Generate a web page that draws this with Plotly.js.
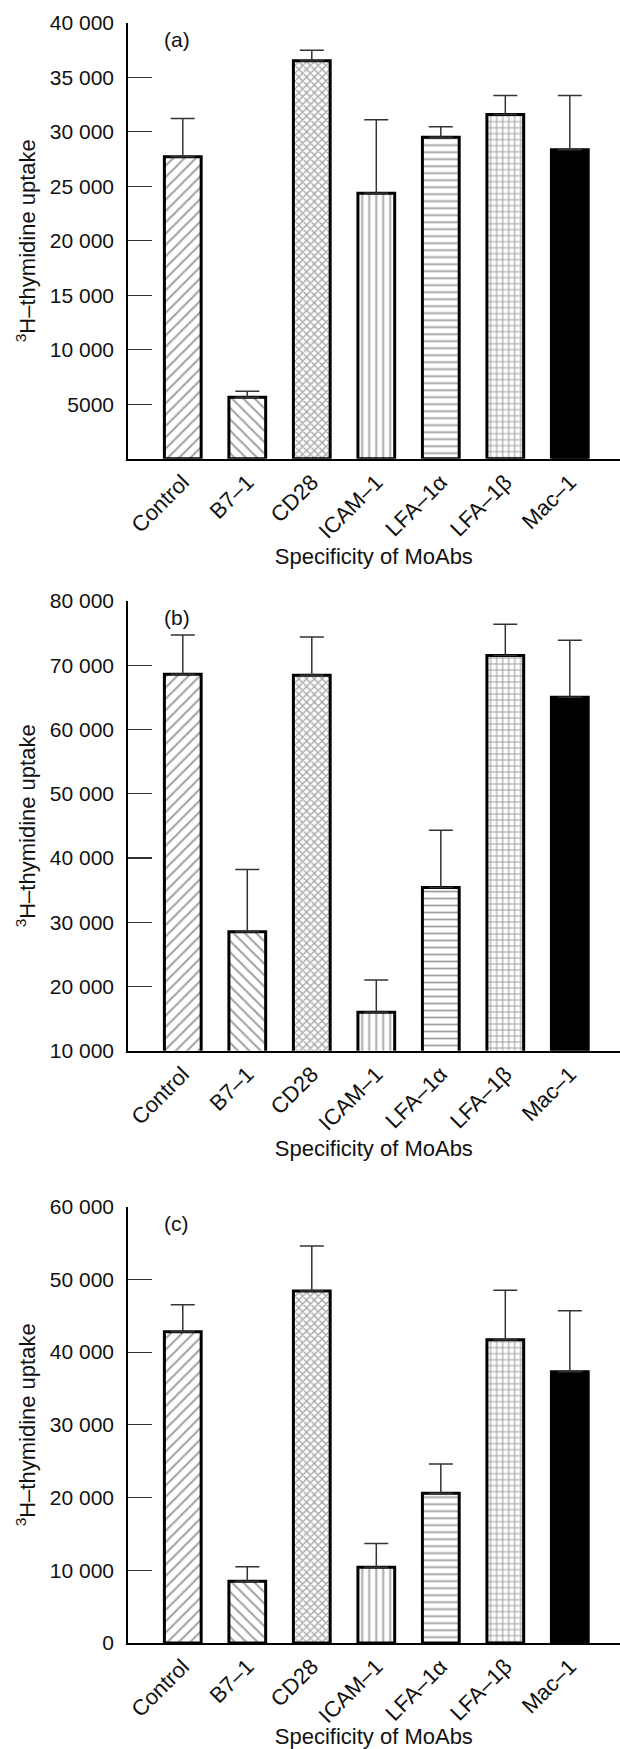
<!DOCTYPE html>
<html>
<head>
<meta charset="utf-8">
<script src="https://cdn.plot.ly/plotly-3.0.1.min.js"></script>
<style>
  html, body { margin: 0; padding: 0; background: #fff; }
  #chart { width: 620px; height: 1749px; }
</style>
</head>
<body>
<div id="chart"></div>
<script>
// ---- Data ----
const categories = ["Control", "B7–1", "CD28", "ICAM–1", "LFA–1α", "LFA–1β", "Mac–1"];

const valuesA = [27700, 5640, 36500, 24350, 29480, 31580, 28340];
const errTopA = [31200, 6190, 37470, 31090, 30450, 33320, 33320];

const valuesB = [68600, 28500, 68450, 16000, 35400, 71500, 65000];
const errTopB = [74700, 38200, 74400, 21000, 44300, 76400, 73900];

const valuesC = [42800, 8500, 48400, 10400, 20600, 41700, 37300];
const errTopC = [46500, 10500, 54600, 13700, 24600, 48500, 45700];

const tickValsA = [5000, 10000, 15000, 20000, 25000, 30000, 35000, 40000];
const tickTextA = ["5000", "10 000", "15 000", "20 000", "25 000", "30 000", "35 000", "40 000"];
const tickValsB = [10000, 20000, 30000, 40000, 50000, 60000, 70000, 80000];
const tickTextB = ["10 000", "20 000", "30 000", "40 000", "50 000", "60 000", "70 000", "80 000"];
const tickValsC = [0, 10000, 20000, 30000, 40000, 50000, 60000];
const tickTextC = ["0", "10 000", "20 000", "30 000", "40 000", "50 000", "60 000"];

const panelLabels = ["(a)", "(b)", "(c)"];
const xTitle = "Specificity of MoAbs";
const yTitle = "<sup>3</sup>H–thymidine uptake";

// ---- Styles ----
const FONT = "Liberation Sans, Arial, Helvetica, sans-serif";
const patternShapes = ["/", "\\", "x", "|", "-", "+", ""];
const patternSizes = [8, 8, 5.5, 7, 7, 6, 8];
const patternSolidity = [0.26, 0.26, 0.4, 0.26, 0.26, 0.34, 0.26];
const fillColors = ["white", "white", "white", "white", "white", "white", "black"];

const W = 620, H = 1749;
const xDomain = [127.7 / W, 1];
const panels = [
  { vals: valuesA, top: errTopA, range: [0, 40000], tv: tickValsA, tt: tickTextA, yTopPx: 22.7, yBotPx: 458.7, labelY: 39.5 },
  { vals: valuesB, top: errTopB, range: [10000, 80000], tv: tickValsB, tt: tickTextB, yTopPx: 601, yBotPx: 1050.7, labelY: 617 },
  { vals: valuesC, top: errTopC, range: [0, 60000], tv: tickValsC, tt: tickTextC, yTopPx: 1206.7, yBotPx: 1643, labelY: 1223 }
];

const traces = [];
const layout = {
  width: W, height: H,
  margin: { l: 0, r: 0, t: 0, b: 0 },
  paper_bgcolor: "white", plot_bgcolor: "white",
  showlegend: false,
  font: { family: FONT, size: 21, color: "#111" },
  annotations: []
};

panels.forEach((p, i) => {
  const n = i === 0 ? "" : String(i + 1);
  const xa = "x" + n, ya = "y" + n;
  traces.push({
    type: "bar",
    x: categories,
    y: p.vals,
    xaxis: xa, yaxis: ya,
    width: 0.57,
    marker: {
      color: fillColors,
      line: { color: "black", width: 3 },
      pattern: {
        shape: patternShapes,
        size: patternSizes,
        solidity: patternSolidity,
        fgcolor: "black",
        fillmode: "overlay"
      }
    },
    error_y: {
      type: "data",
      symmetric: false,
      array: p.top.map((t, k) => t - p.vals[k]),
      arrayminus: p.vals.map(() => 0),
      color: "#333",
      thickness: 1.5,
      width: 12
    },
    hoverinfo: "skip"
  });

  const yDom = [1 - p.yBotPx / H, 1 - p.yTopPx / H];
  layout["xaxis" + n] = {
    domain: xDomain,
    anchor: ya,
    type: "category",
    range: [-0.854, 6.778],
    showline: true, linecolor: "black", linewidth: 2,
    ticks: "", showgrid: false, zeroline: false,
    tickangle: -45,
    tickfont: { family: FONT, size: 22, color: "#111" },
    title: { text: xTitle, font: { family: FONT, size: 22, color: "#111" }, standoff: 5 },
    fixedrange: true
  };
  layout["yaxis" + n] = {
    domain: yDom,
    anchor: xa,
    range: p.range,
    showline: true, linecolor: "black", linewidth: 1.5,
    ticks: "inside", ticklen: 24, tickwidth: 1.2, tickcolor: "#333",
    tickvals: p.tv, ticktext: p.tt,
    ticklabelstandoff: 8,
    showgrid: false, zeroline: false,
    tickfont: { family: FONT, size: 21, color: "#111" },
    title: { text: yTitle, font: { family: FONT, size: 22, color: "#111" }, standoff: 8 },
    fixedrange: true
  };
  layout.annotations.push({
    xref: "paper", yref: "paper",
    x: 162 / W, y: 1 - p.labelY / H,
    xanchor: "left", yanchor: "middle",
    text: panelLabels[i], showarrow: false,
    font: { family: FONT, size: 21, color: "#111" }
  });
});

Plotly.newPlot("chart", traces, layout, { staticPlot: true, displayModeBar: false });
</script>
</body>
</html>
